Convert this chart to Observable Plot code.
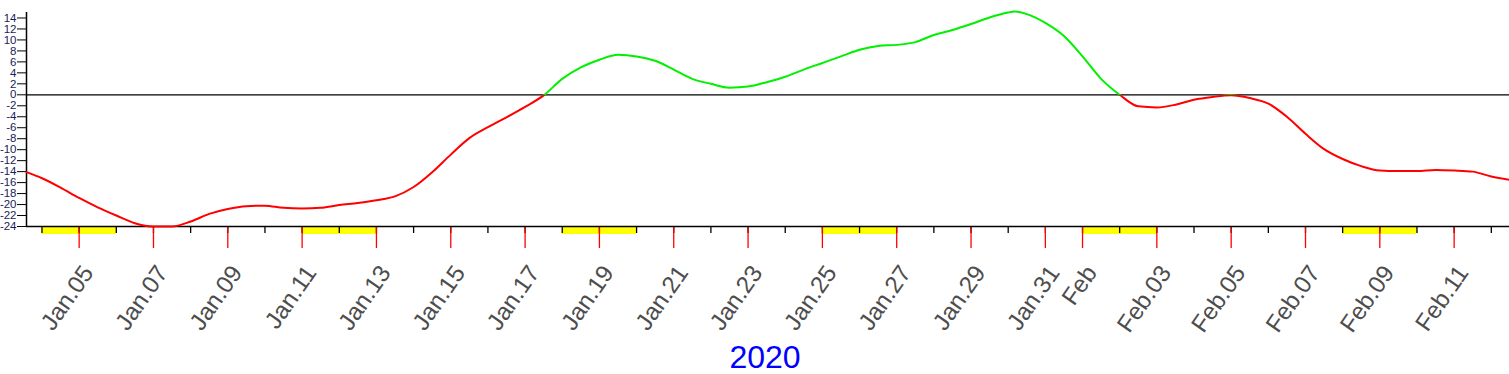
<!DOCTYPE html>
<html><head><meta charset="utf-8">
<script src="https://cdn.jsdelivr.net/npm/d3@7"></script>
<script src="https://cdn.jsdelivr.net/npm/@observablehq/plot@0.6"></script>
<style>
body{margin:0;background:#fff;}
g[aria-label="xlabels"] text{letter-spacing:2.8px;}
</style></head><body>
<script>
const times = [
"2020-01-03T14:00Z","2020-01-04T00:00Z","2020-01-04T12:00Z","2020-01-05T00:00Z","2020-01-05T12:00Z",
"2020-01-06T00:00Z","2020-01-06T12:00Z","2020-01-07T00:00Z","2020-01-07T12:00Z","2020-01-08T00:00Z",
"2020-01-08T12:00Z","2020-01-09T00:00Z","2020-01-09T12:00Z","2020-01-10T00:00Z","2020-01-10T12:00Z",
"2020-01-11T00:00Z","2020-01-11T12:00Z","2020-01-12T00:00Z","2020-01-12T12:00Z","2020-01-13T00:00Z",
"2020-01-13T12:00Z","2020-01-14T00:00Z","2020-01-14T12:00Z","2020-01-15T00:00Z","2020-01-15T12:00Z",
"2020-01-16T00:00Z","2020-01-16T12:00Z","2020-01-17T00:00Z","2020-01-17T12:00Z","2020-01-18T00:00Z",
"2020-01-18T12:00Z","2020-01-19T00:00Z","2020-01-19T12:00Z","2020-01-20T00:00Z","2020-01-20T12:00Z",
"2020-01-21T00:00Z","2020-01-21T12:00Z","2020-01-22T00:00Z","2020-01-22T12:00Z","2020-01-23T00:00Z",
"2020-01-23T12:00Z","2020-01-24T00:00Z","2020-01-24T12:00Z","2020-01-25T00:00Z","2020-01-25T12:00Z",
"2020-01-26T00:00Z","2020-01-26T12:00Z","2020-01-27T00:00Z","2020-01-27T12:00Z","2020-01-28T00:00Z",
"2020-01-28T12:00Z","2020-01-29T00:00Z","2020-01-29T12:00Z","2020-01-30T00:00Z","2020-01-30T04:00Z",
"2020-01-30T12:00Z",
"2020-01-31T00:00Z","2020-01-31T12:00Z","2020-02-01T00:00Z","2020-02-01T12:00Z","2020-02-02T00:00Z",
"2020-02-02T12:00Z","2020-02-03T00:00Z","2020-02-03T12:00Z","2020-02-04T00:00Z","2020-02-04T12:00Z",
"2020-02-05T00:00Z","2020-02-05T12:00Z","2020-02-06T00:00Z","2020-02-06T12:00Z","2020-02-07T00:00Z",
"2020-02-07T12:00Z","2020-02-08T00:00Z","2020-02-08T12:00Z","2020-02-09T00:00Z","2020-02-09T12:00Z",
"2020-02-10T00:00Z","2020-02-10T12:00Z","2020-02-11T00:00Z","2020-02-11T12:00Z","2020-02-12T00:00Z",
"2020-02-12T11:45Z"];
const values = [
-14.1,-15.2,-16.9,-18.8,-20.5,
-22.0,-23.4,-24.0,-24.0,-23.1,
-21.7,-20.8,-20.3,-20.2,-20.6,
-20.7,-20.6,-20.1,-19.7,-19.2,
-18.5,-16.8,-14.1,-10.9,-7.9,
-5.9,-4.1,-2.2,-0.1,2.9,
5.0,6.4,7.3,7.0,6.2,
4.6,2.9,2.0,1.3,1.5,
2.3,3.3,4.6,5.8,7.0,
8.2,8.9,9.1,9.6,10.9,
11.8,12.9,14.1,15.0,15.2,
14.7,
13.1,10.7,7.0,2.9,0.0,
-2.1,-2.3,-1.8,-0.9,-0.4,
-0.1,-0.6,-1.6,-4.0,-7.1,
-9.9,-11.7,-13.0,-13.8,-13.9,
-13.9,-13.7,-13.8,-14.0,-14.9,
-15.5];
const weekendStarts = ["2020-01-04","2020-01-11","2020-01-18","2020-01-25","2020-02-01","2020-02-08"];
const tickDates = ["2020-01-05","2020-01-07","2020-01-09","2020-01-11","2020-01-13","2020-01-15","2020-01-17",
"2020-01-19","2020-01-21","2020-01-23","2020-01-25","2020-01-27","2020-01-29","2020-01-31","2020-02-01",
"2020-02-03","2020-02-05","2020-02-07","2020-02-09","2020-02-11"];
const tickLabels = ["Jan.05","Jan.07","Jan.09","Jan.11","Jan.13","Jan.15","Jan.17","Jan.19","Jan.21","Jan.23",
"Jan.25","Jan.27","Jan.29","Jan.31","Feb","Feb.03","Feb.05","Feb.07","Feb.09","Feb.11"];
const yTicks = [-24,-22,-20,-18,-16,-14,-12,-10,-8,-6,-4,-2,0,2,4,6,8,10,12,14];
const yearLabel = ["2020"];

const xDomain = [new Date("2020-01-03T14:00Z"), new Date("2020-02-12T11:45Z")];
const data = times.map((t, i) => ({date: new Date(t), value: values[i]}));
const days = d3.utcDays(new Date("2020-01-04T00:00Z"), new Date("2020-02-13T00:00Z"));
const weekends = weekendStarts.map(s => ({start: new Date(s), end: d3.utcDay.offset(new Date(s), 2)}));
const labelData = tickDates.map((d, i) => ({date: new Date(d), text: tickLabels[i]}));
const labelDates = labelData.map(d => d.date);

const plot = Plot.plot({
  width: 1509, height: 374,
  marginLeft: 26, marginRight: 0, marginTop: 12, marginBottom: 148,
  style: {fontFamily: "'Liberation Sans', Arial, sans-serif", background: "#fff", overflow: "visible"},
  x: {type: "utc", domain: xDomain},
  y: {domain: [-24, 15]},
  marks: [
    Plot.rect(weekends, {x1: "start", x2: "end", y1: d => -24, y2: d => -24, insetBottom: -8, fill: "#ffff00"}),
    Plot.axisX({ticks: days, tickSize: 7, tickFormat: () => "", label: null, stroke: "black", strokeWidth: 1.3}),
    Plot.axisX({ticks: labelDates, tickSize: 22, tickFormat: () => "", label: null, stroke: "#ff0000", strokeWidth: 1.3}),
    Plot.ruleY([0], {stroke: "black", strokeWidth: 1.3}),
    Plot.ruleY([-24], {stroke: "black", strokeWidth: 1.5}),
    Plot.ruleX([xDomain[0]], {stroke: "black", strokeWidth: 1.5}),
    Plot.axisY({ticks: yTicks, tickSize: 9, tickPadding: 1, fontSize: 11.5, tickFormat: d => String(d),
      label: null, stroke: "black", fill: "#1c1c58"}),
    Plot.line(data, {x: "date", y: "value", curve: "monotone-x", stroke: "url(#posneg)", strokeWidth: 2}),
    Plot.text(labelData, {x: "date", y: d => -24, text: "text", rotate: -55, textAnchor: "end",
      dx: 9, dy: 42, fontSize: 24, fill: "#4d4d4d", ariaLabel: "xlabels"}),
    Plot.text(yearLabel, {frameAnchor: "bottom", text: d => d, dx: -3, dy: 141, fontSize: 32, fill: "#0000ff"})
  ]
});

const y0 = plot.scale("y").apply(0);
const H = 374;
const grad = d3.select(plot).insert("defs", ":first-child").append("linearGradient")
  .attr("id", "posneg").attr("gradientUnits", "userSpaceOnUse")
  .attr("x1", 0).attr("y1", 0).attr("x2", 0).attr("y2", H);
grad.append("stop").attr("offset", 0).attr("stop-color", "#00f000");
grad.append("stop").attr("offset", y0 / H).attr("stop-color", "#00f000");
grad.append("stop").attr("offset", y0 / H).attr("stop-color", "#ff0000");
grad.append("stop").attr("offset", 1).attr("stop-color", "#ff0000");

document.body.appendChild(plot);
</script>
</body></html>
